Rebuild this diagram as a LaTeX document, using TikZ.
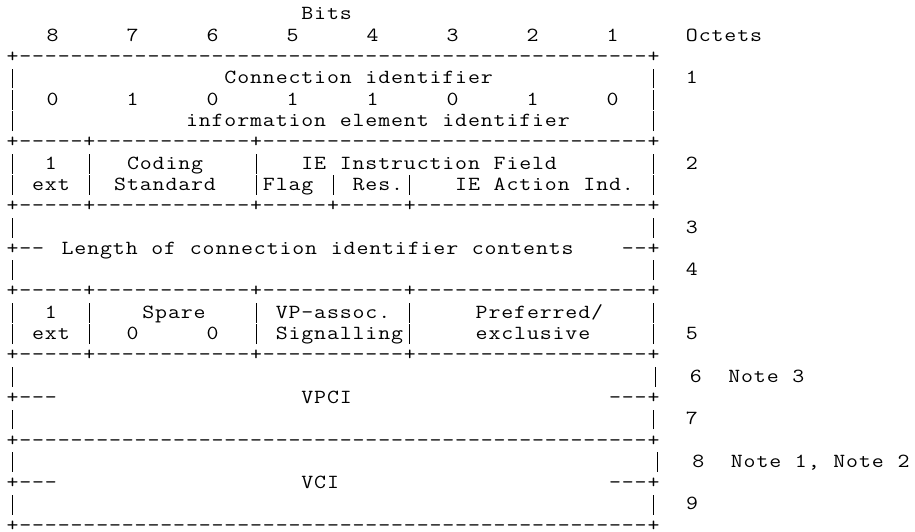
\documentclass[tikz,border=0pt]{standalone}
\usepackage{graphicx}

% character cell of the fixed-pitch grid
\newlength\cellw
\setlength\cellw{12.82pt}
\newcommand\glyphx{1.16}
% vertical bar: a rule nearly as tall as the line pitch
\newcommand\vbar{\rule[-4.6pt]{0.95pt}{19.8pt}}

\ExplSyntaxOn
% set a string one character per grid cell (spaces kept)
\NewDocumentCommand\monotext{m}{
  \str_map_inline:nn {#1}
    {
      \str_if_eq:nnTF {##1} {|}
        { \makebox[\cellw][c]{\vbar} }
        { \makebox[\cellw][c]{\scalebox{\glyphx}[1]{##1}} }
    }
}
% put a string at a (possibly fractional) column of the current row
\NewDocumentCommand\cell{mm}{
  \rlap{\hspace*{\fp_eval:n{#1}\cellw}\monotext{#2}}
}
% ruled row: '+' at the listed columns, '-' between column 0 and 50
\NewDocumentCommand\ruleline{m}{
  \int_step_inline:nnn {0} {50}
    { \clist_if_in:nnTF {#1} {##1} { \cell{##1}{+} } { \cell{##1}{-} } }
}
\ExplSyntaxOff

\tikzset{
  textrow/.style={anchor=base west, inner sep=0pt, outer sep=0pt, xshift=5.6pt,
    font=\ttfamily\fontsize{20}{22}\selectfont, text=black}
}

\begin{document}
\begin{tikzpicture}[x=1pt, y=1pt]
  \useasboundingbox[fill=white] (0,0) rectangle (915,531);

  % header
  \node[textrow] (r01) at (0,{511-21.3*0}) {\cell{23}{Bits}};
  \node[textrow] (r02) at (0,{511-21.3*1}) {%
    \cell{3.12}{8}\cell{9.36}{7}\cell{15.6}{6}\cell{21.84}{5}%
    \cell{28.08}{4}\cell{34.32}{3}\cell{40.56}{2}\cell{46.8}{1}\cell{53}{Octets}};

  % octet 1
  \node[textrow] (r03) at (0,{511-21.3*2}) {\ruleline{0,50}};
  \node[textrow] (r04) at (0,{511-21.3*3}) {%
    \cell{0}{|}\cell{17}{Connection identifier}\cell{50}{|}\cell{53}{1}};
  \node[textrow] (r05) at (0,{511-21.3*4}) {%
    \cell{0}{|}%
    \cell{3.12}{0}\cell{9.36}{1}\cell{15.6}{0}\cell{21.84}{1}%
    \cell{28.08}{1}\cell{34.32}{0}\cell{40.56}{1}\cell{46.8}{0}%
    \cell{50}{|}};
  \node[textrow] (r06) at (0,{511-21.3*5}) {%
    \cell{0}{|}\cell{14}{information element identifier}\cell{50}{|}};

  % octet 2
  \node[textrow] (r07) at (0,{511-21.3*6}) {\ruleline{0,6,19,50}};
  \node[textrow] (r08) at (0,{511-21.3*7}) {%
    \cell{0}{|}\cell{3}{1}\cell{6}{|}\cell{9.4}{Coding}\cell{19}{|}%
    \cell{23}{IE Instruction Field}\cell{50}{|}\cell{53}{2}};
  \node[textrow] (r09) at (0,{511-21.3*8}) {%
    \cell{0}{|}\cell{2}{ext}\cell{6}{|}\cell{8.4}{Standard}\cell{19}{|}%
    \cell{20}{Flag}\cell{25}{|}\cell{27}{Res.}\cell{31}{|}%
    \cell{35}{IE Action Ind.}\cell{50}{|}};

  % octets 3-4
  \node[textrow] (r10) at (0,{511-21.3*9}) {\ruleline{0,6,19,25,31,50}};
  \node[textrow] (r11) at (0,{511-21.3*10}) {\cell{0}{|}\cell{50}{|}\cell{53}{3}};
  \node[textrow] (r12) at (0,{511-21.3*11}) {%
    \cell{0}{+--}\cell{4.3}{Length of connection identifier contents}\cell{48}{--+}};
  \node[textrow] (r13) at (0,{511-21.3*12}) {\cell{0}{|}\cell{50}{|}\cell{53}{4}};

  % octet 5
  \node[textrow] (r14) at (0,{511-21.3*13}) {\ruleline{0,6,19,31,50}};
  \node[textrow] (r15) at (0,{511-21.3*14}) {%
    \cell{0}{|}\cell{3}{1}\cell{6}{|}\cell{10.6}{Spare}\cell{19}{|}%
    \cell{21}{VP-assoc.}\cell{31}{|}\cell{36.6}{Preferred/}\cell{50}{|}};
  \node[textrow] (r16) at (0,{511-21.3*15}) {%
    \cell{0}{|}\cell{2}{ext}\cell{6}{|}\cell{9.36}{0}\cell{15.6}{0}\cell{19}{|}%
    \cell{21}{Signalling}\cell{31}{|}\cell{36.6}{exclusive}\cell{50}{|}\cell{53}{5}};

  % octets 6-7
  \node[textrow] (r17) at (0,{511-21.3*16}) {\ruleline{0,6,19,31,50}};
  \node[textrow] (r18) at (0,{511-21.3*17}) {%
    \cell{0}{|}\cell{50.15}{|}\cell{53.3}{6}\cell{56.3}{Note 3}};
  \node[textrow] (r19) at (0,{511-21.3*18}) {%
    \cell{0}{+---}\cell{23}{VPCI}\cell{47}{---+}};
  \node[textrow] (r20) at (0,{511-21.3*19}) {\cell{0}{|}\cell{50}{|}\cell{53}{7}};

  % octets 8-9
  \node[textrow] (r21) at (0,{511-21.3*20}) {\ruleline{0,50}};
  \node[textrow] (r22) at (0,{511-21.3*21}) {%
    \cell{0}{|}\cell{50.3}{|}\cell{53.5}{8}\cell{56.5}{Note 1, Note 2}};
  \node[textrow] (r23) at (0,{511-21.3*22}) {%
    \cell{0}{+---}\cell{23}{VCI}\cell{47}{---+}};
  \node[textrow] (r24) at (0,{511-21.3*23}) {\cell{0}{|}\cell{50}{|}\cell{53}{9}};
  \node[textrow] (r25) at (0,{511-21.3*24}) {\ruleline{0,50}};
\end{tikzpicture}
\end{document}
